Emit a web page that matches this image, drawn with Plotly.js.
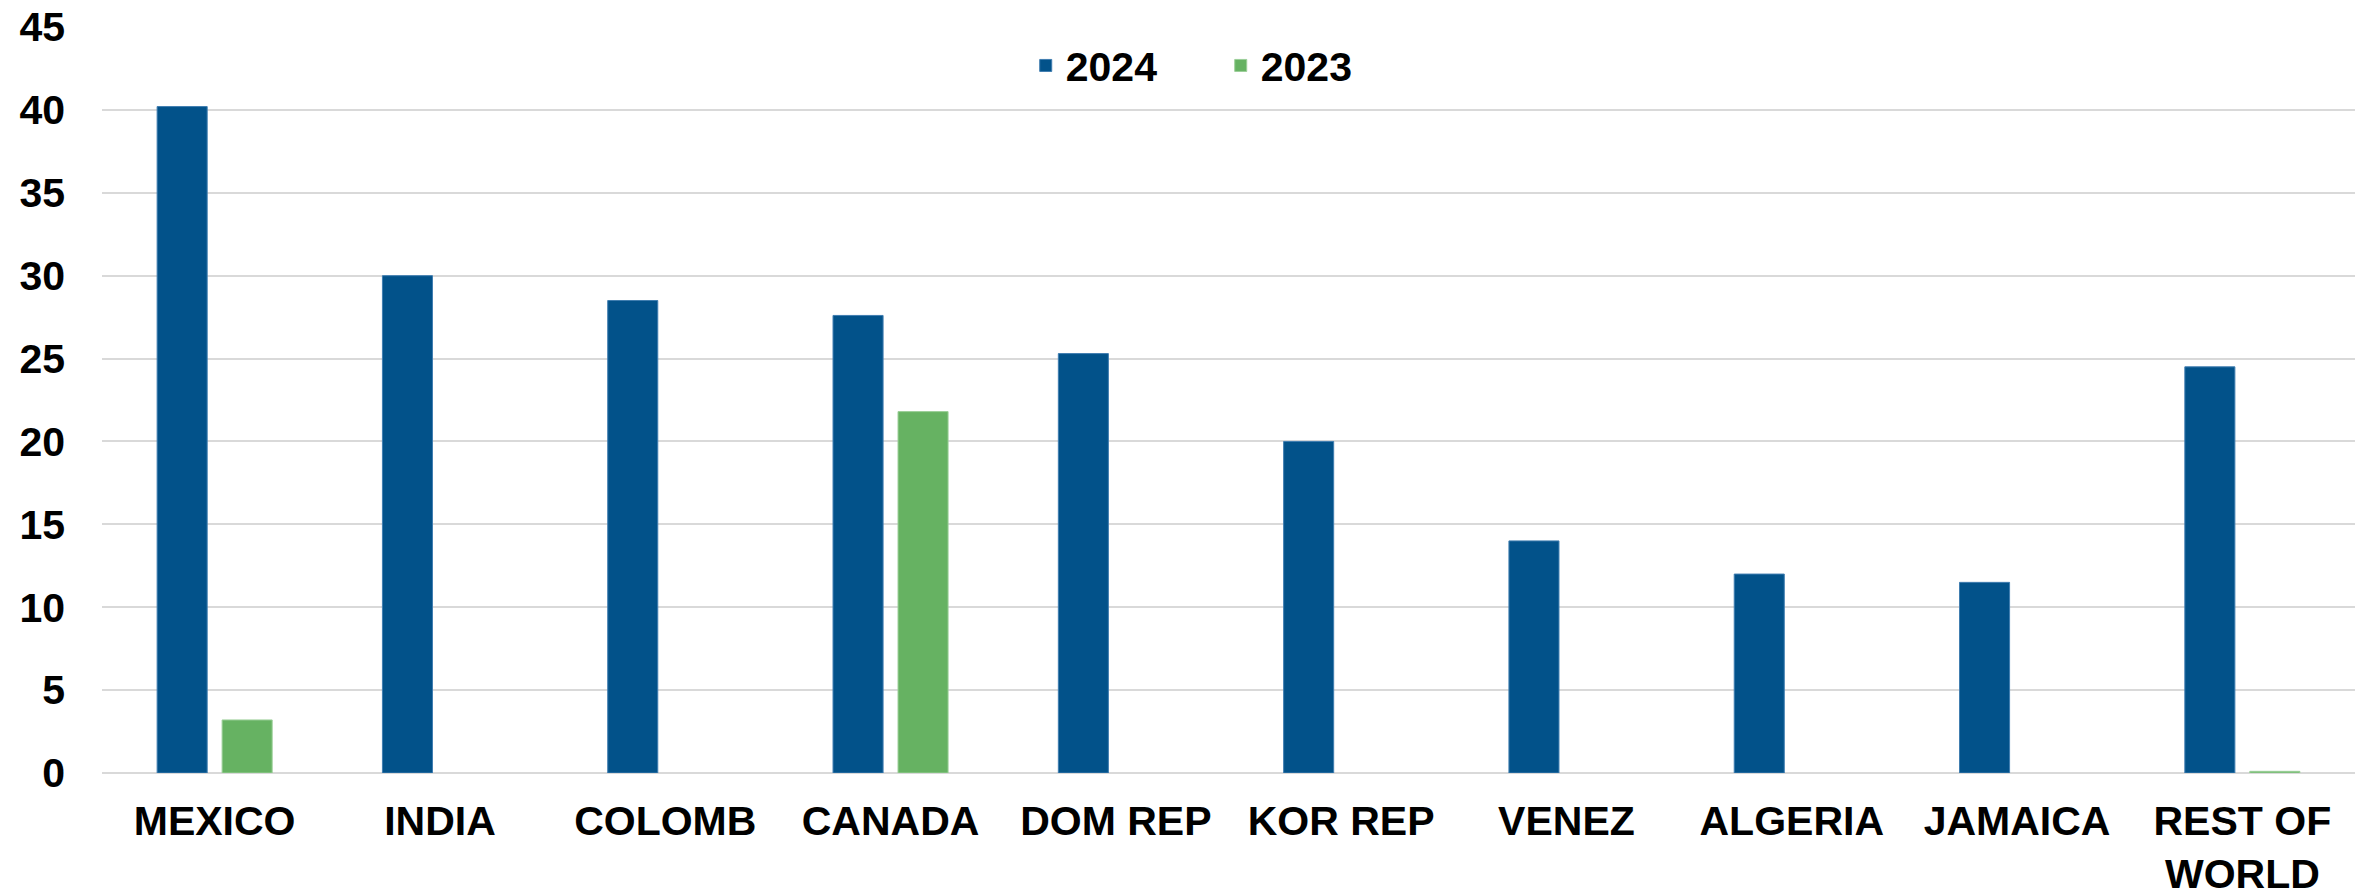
<!DOCTYPE html>
<html>
<head>
<meta charset="utf-8">
<script src="https://cdn.plot.ly/plotly-3.0.1.min.js"></script>
<style>html,body{margin:0;padding:0;background:#fff}#chart{width:2372px;height:890px}</style>
</head>
<body>
<div id="chart"></div>
<script>
const categories = ["MEXICO","INDIA","COLOMB","CANADA","DOM REP","KOR REP","VENEZ","ALGERIA","JAMAICA","REST OF<br>WORLD"];
const values2024 = [40.2, 30.0, 28.5, 27.6, 25.3, 20.0, 14.0, 12.0, 11.5, 24.5];
const values2023 = [3.2, null, null, 21.8, null, null, null, null, null, 0.1];
const yTicks = [0,5,10,15,20,25,30,35,40,45];

const FONT = "Liberation Sans, Arial, sans-serif";
const traces = [
  {type:'bar', name:'2024', x:categories, y:values2024,
   marker:{color:'#02528A', line:{color:'#3F7DB0', width:1}}},
  {type:'bar', name:'2023', x:categories, y:values2023,
   marker:{color:'#66B262', line:{color:'#9BCF98', width:1}}}
];
const layout = {
  width:2372, height:890,
  margin:{l:102, r:17, t:27, b:117},
  paper_bgcolor:'#ffffff', plot_bgcolor:'#ffffff',
  font:{family:FONT, size:41, color:'#000000', weight:'bold'},
  barmode:'group', bargap:0.423, bargroupgap:0.23,
  showlegend:true,
  legend:{orientation:'h', x:0.41, xanchor:'left', y:0.948, yanchor:'middle',
          font:{family:FONT, size:41, color:'#000', weight:'bold'},
          bgcolor:'rgba(0,0,0,0)', entrywidth:150, itemwidth:30},
  xaxis:{type:'category', showgrid:false, zeroline:false, showline:false, ticks:'',
         tickfont:{family:FONT, size:41, color:'#000', weight:'bold'}, ticklabelstandoff:20},
  yaxis:{range:[0,45], tickvals:yTicks, ticktext:yTicks.map(String), showgrid:true,
         gridcolor:'#D9D9D9', gridwidth:2, zeroline:true, zerolinecolor:'#D9D9D9', zerolinewidth:2,
         showline:false, ticks:'', ticklabelstandoff:36,
         tickfont:{family:FONT, size:41, color:'#000', weight:'bold'}}
};
Plotly.newPlot('chart', traces, layout, {displayModeBar:false, staticPlot:true});
</script>
</body>
</html>
